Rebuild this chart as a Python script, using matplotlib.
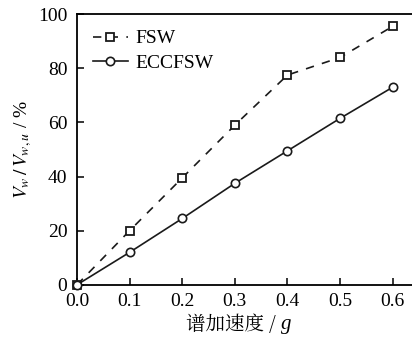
import matplotlib
matplotlib.use("Agg")
import matplotlib.pyplot as plt

plt.rcParams['font.family'] = ['Liberation Serif', 'Noto Serif CJK SC', 'Noto Sans CJK SC']
plt.rcParams['mathtext.fontset'] = 'stix'

# ---------------- DATA ----------------
accel = [0.0, 0.1, 0.2, 0.3, 0.4, 0.5, 0.6]
fsw = [0, 20, 39.5, 59, 77.5, 84, 95.5]
eccfsw = [0, 12, 24.5, 37.5, 49.5, 61.5, 73]

fig = plt.figure(figsize=(4.12, 3.37), dpi=100)
ax = fig.add_axes([0.187, 0.155, 0.83, 0.803])

ax.plot(accel, fsw, color="#1a1a1a", linestyle=(0, (5, 5)), linewidth=1.2,
        marker="s", markersize=6, markerfacecolor="white",
        markeredgewidth=1.3, label="FSW", clip_on=False, zorder=3)
ax.plot(accel, eccfsw, color="#1a1a1a", linestyle="-", linewidth=1.2,
        marker="o", markersize=6, markerfacecolor="white",
        markeredgewidth=1.2, label="ECCFSW", clip_on=False, zorder=3)

ax.set_xlim(0, 0.65)
ax.set_ylim(0, 100)
ax.set_xticks(accel)
ax.set_xticklabels([f"{v:.1f}" for v in accel])
ax.set_yticks([0, 20, 40, 60, 80, 100])
ax.tick_params(direction="in", length=5, width=1.1, labelsize=14,
               top=False, right=False)
ax.tick_params(axis="y", pad=7)
ax.tick_params(axis="x", pad=6)
for side in ["left", "bottom", "top"]:
    ax.spines[side].set_linewidth(1.3)
ax.spines["right"].set_visible(False)

# x label: Chinese part plus italic g
ax.text(0.596, -0.11, "谱加速度 / ", transform=ax.transAxes, ha="right",
        va="top", fontsize=14, family=['Noto Serif CJK SC', 'Noto Sans CJK SC', 'Liberation Serif'])
ax.text(0.596, -0.11, "g", transform=ax.transAxes, ha="left",
        va="top", fontsize=15, style="italic", family="Liberation Serif")

ax.set_ylabel("$V_w\\,/\\,V_{w,u}$ / %", fontsize=14, labelpad=3)

ax.legend(loc="upper left", frameon=False, fontsize=14, handlelength=1.8,
          borderaxespad=0.4, labelspacing=0.35, handletextpad=0.4)

fig.savefig("out.png", dpi=100)
